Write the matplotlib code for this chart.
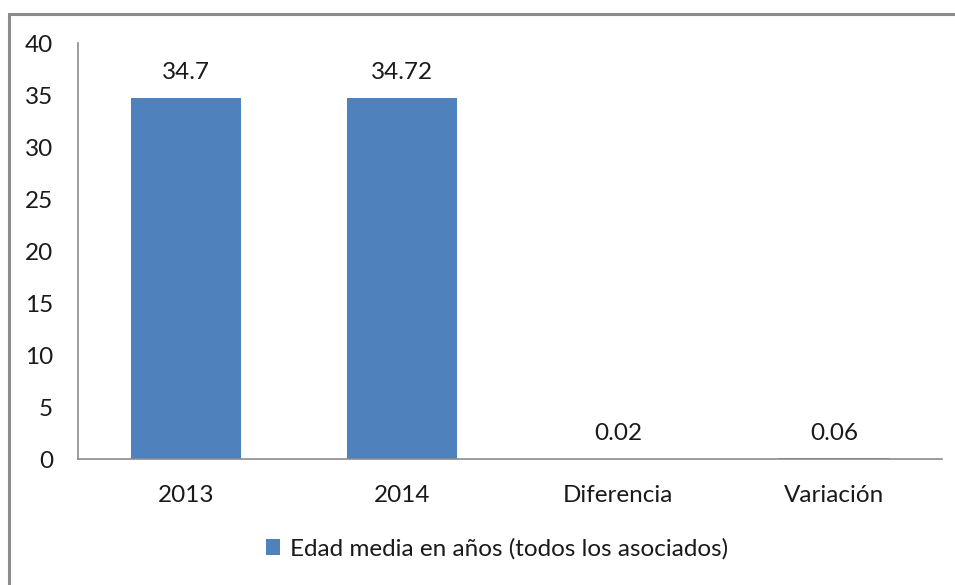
import matplotlib.pyplot as plt
from matplotlib.patches import Rectangle

categorias = ["2013", "2014", "Diferencia", "Variación"]
valores = [34.7, 34.72, 0.02, 0.06]
etiquetas = ["34.7", "34.72", "0.02", "0.06"]
serie = "Edad media en años (todos los asociados)"

plt.rcParams["font.family"] = ["Lato", "DejaVu Sans"]
FS = 17.5
TXT = "#1a1a1a"

W, H = 955, 585
fig = plt.figure(figsize=(W / 100, H / 100), dpi=100)

# marco gris de la imagen
fig.patches.append(Rectangle((9 / W, -0.1), 1.2, 1 - 14 / H + 0.1, transform=fig.transFigure,
                             fill=False, edgecolor="#8c8c8c", linewidth=2.2))

ax = fig.add_axes([78 / W, 1 - 459 / H, (942 - 78) / W, (459 - 43) / H])
x = range(len(categorias))
barras = ax.bar(x, valores, width=0.51, color="#4F81BD", label=serie)

for xi, v, t in zip(x, valores, etiquetas):
    ax.text(xi, v + 1.8, t, ha="center", va="baseline", fontsize=FS, color=TXT)

ax.set_xlim(-0.5, 3.5)
ax.set_ylim(0, 40)
ax.set_yticks(range(0, 41, 5))
ax.set_xticks(list(x))
ax.set_xticklabels(categorias)
ax.tick_params(length=0, labelsize=FS, colors=TXT)
ax.tick_params(axis="y", pad=18)
ax.tick_params(axis="x", pad=19)
for s in ["top", "right"]:
    ax.spines[s].set_visible(False)
for s in ["left", "bottom"]:
    ax.spines[s].set_color("#8c8c8c")
    ax.spines[s].set_linewidth(1.2)

fig.legend(handles=[barras], labels=[serie], loc="center", bbox_to_anchor=(497 / W, 1 - 549 / H),
           frameon=False, fontsize=FS, handlelength=0.6, handleheight=0.6, handletextpad=0.4,
           labelcolor=TXT)

fig.savefig("out.png", dpi=100)
